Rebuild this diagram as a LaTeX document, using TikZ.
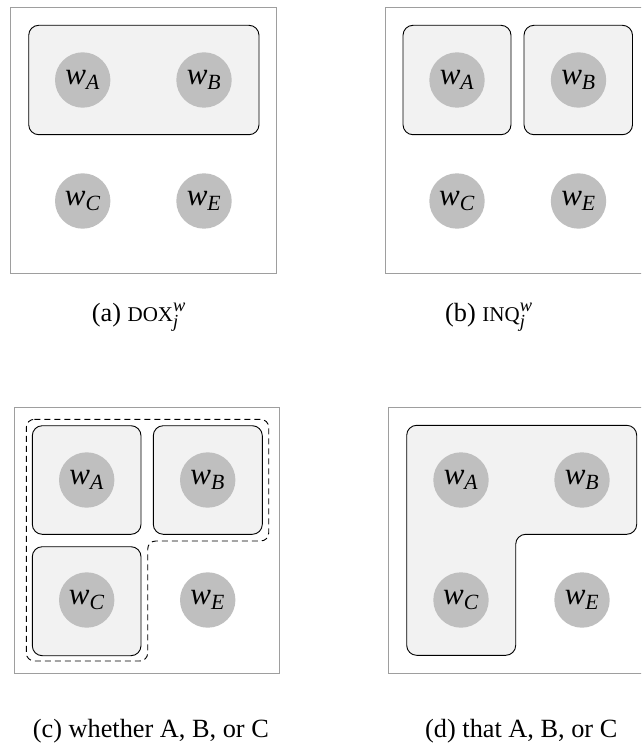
\documentclass[tikz,border=0pt]{standalone}
\usepackage{fontspec}
\setmainfont{Liberation Serif}
\begin{document}
\begin{tikzpicture}[x=1pt,y=-1pt,
  outerbox/.style={draw=black!38, line width=1pt, fill=white},
  innerbox/.style={draw=black, line width=0.9pt, fill=black!5, rounded corners=10pt},
  dashbox/.style={draw=black, line width=0.9pt, dashed, dash pattern=on 6pt off 4pt, rounded corners=8pt},
  world/.style={circle, fill=black!25, minimum size=55.4pt, inner sep=0pt, font=\fontsize{31}{31}\selectfont},
  captext/.style={anchor=base west, inner sep=0pt, font=\fontsize{26.3}{30}\selectfont}]
\useasboundingbox (0,0) rectangle (641,746);
\begin{scope}
\clip (0,0) rectangle (641,746);
% ---------- panel (a)
\draw[outerbox] (10.5,8) rectangle (276.5,273);
\draw[innerbox] (28.7,25.3) rectangle (259,134.7);
\node[world] (aA) at (82.7,80) {$\mathit{w}_{\mathit{A}}$};
\node[world] (aB) at (204,80) {$\mathit{w}_{\mathit{B}}$};
\node[world] (aC) at (82.7,201) {$\mathit{w}_{\mathit{C}}$};
\node[world] (aE) at (204,201) {$\mathit{w}_{\mathit{E}}$};
% ---------- panel (b)
\draw[outerbox] (385,8) rectangle (651,273);
\draw[innerbox] (403,25.3) rectangle (511,134.7);
\draw[innerbox] (524,25.3) rectangle (632.5,134.7);
\node[world] (bA) at (457,80) {$\mathit{w}_{\mathit{A}}$};
\node[world] (bB) at (578.5,80) {$\mathit{w}_{\mathit{B}}$};
\node[world] (bC) at (457,201) {$\mathit{w}_{\mathit{C}}$};
\node[world] (bE) at (578.5,201) {$\mathit{w}_{\mathit{E}}$};
% ---------- panel (c)
\draw[outerbox] (14,407.3) rectangle (279.3,673);
\draw[innerbox] (32.3,425.7) rectangle (141,534.3);
\draw[innerbox] (153.3,425.7) rectangle (262.3,534.3);
\draw[innerbox] (32.3,546.7) rectangle (141,655.7);
\draw[dashbox] (26.3,419.3) -- (268.7,419.3) -- (268.7,541) -- (147.7,541)
   -- (147.7,661) -- (26.3,661) -- cycle;
\node[world] (cA) at (86.7,480) {$\mathit{w}_{\mathit{A}}$};
\node[world] (cB) at (207.7,480) {$\mathit{w}_{\mathit{B}}$};
\node[world] (cC) at (86.7,600) {$\mathit{w}_{\mathit{C}}$};
\node[world] (cE) at (207.7,600) {$\mathit{w}_{\mathit{E}}$};
% ---------- panel (d)
\draw[outerbox] (388.7,407.3) rectangle (654.7,673);
\draw[innerbox] (406.7,425.3) -- (636.7,425.3) -- (636.7,534.3) -- (515.7,534.3)
   -- (515.7,655.3) -- (406.7,655.3) -- cycle;
\node[world] (dA) at (461,480) {$\mathit{w}_{\mathit{A}}$};
\node[world] (dB) at (582,480) {$\mathit{w}_{\mathit{B}}$};
\node[world] (dC) at (461,600) {$\mathit{w}_{\mathit{C}}$};
\node[world] (dE) at (582,600) {$\mathit{w}_{\mathit{E}}$};
\end{scope}
% ---------- captions
\node[captext] (capa) at (91.7,321) {(a) {\fontsize{21}{21}\selectfont DOX}$^{\mathit{w}}_{\mathit{j}}$};
\node[captext] (capb) at (445,321) {(b) {\fontsize{21}{21}\selectfont INQ}$^{\mathit{w}}_{\mathit{j}}$};
\node[captext] (capc) at (32.7,737) {(c) whether A, B, or C};
\node[captext] (capd) at (425,737) {(d) that A, B, or C};
\end{tikzpicture}
\end{document}
